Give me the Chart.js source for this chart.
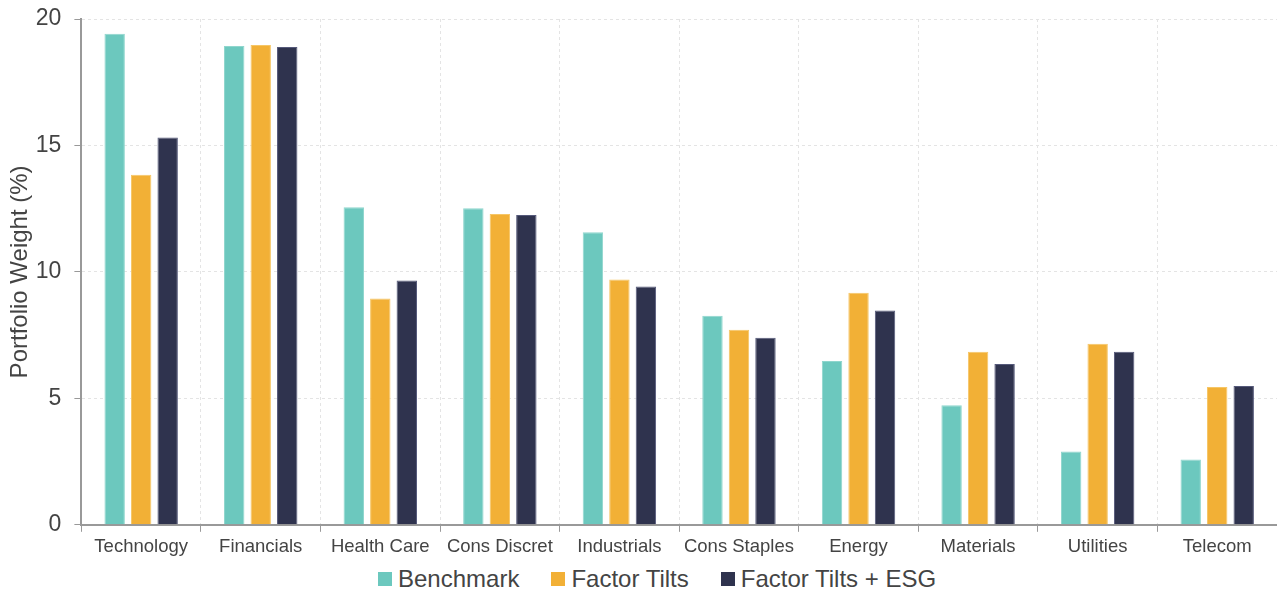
<!DOCTYPE html>
<html>
<head>
<meta charset="utf-8">
<script src="https://cdn.jsdelivr.net/npm/chart.js@4"></script>
<style>
  html, body { margin: 0; padding: 0; background: #fff; }
  #wrap { width: 1277px; height: 593px; position: relative; font-family: 'Liberation Sans', Arial, sans-serif; }
  #plot { position: absolute; left: 0; top: 0; width: 1277px; height: 564px; }
  #legend { position: absolute; left: 378px; top: 566px; height: 26px; line-height: 26px;
            display: flex; gap: 32px; font-size: 24px; color: #444; white-space: nowrap; }
  #legend .item { display: flex; align-items: center; }
  #legend .box { width: 14px; height: 14px; margin-right: 6px; }
</style>
</head>
<body>
<div id="wrap">
  <div id="plot"><canvas id="chart"></canvas></div>
  <div id="legend"></div>
</div>
<script>
// Sector weights (%) per portfolio
const sectors = ['Technology', 'Financials', 'Health Care', 'Cons Discret', 'Industrials',
                 'Cons Staples', 'Energy', 'Materials', 'Utilities', 'Telecom'];
const benchmark   = [19.42, 18.93, 12.56, 12.52, 11.57, 8.27, 6.48, 4.73, 2.90, 2.58];
const factorTilts = [13.84, 18.97, 8.95, 12.29, 9.70, 7.71, 9.18, 6.84, 7.16, 5.45];
const tiltsEsg    = [15.31, 18.89, 9.66, 12.25, 9.42, 7.40, 8.47, 6.36, 6.84, 5.49];
const yTicks = [0, 5, 10, 15, 20];

const FONT = "'Liberation Sans', Arial, sans-serif";
const TEXT = '#444';

const chart = new Chart(document.getElementById('chart'), {
  type: 'bar',
  data: {
    labels: sectors,
    datasets: [
      { label: 'Benchmark', data: benchmark, backgroundColor: '#6cc8be', borderColor: '#8fd6cd', borderWidth: 1 },
      { label: 'Factor Tilts', data: factorTilts, backgroundColor: '#f2b036', borderColor: '#f6c666', borderWidth: 1 },
      { label: 'Factor Tilts + ESG', data: tiltsEsg, backgroundColor: '#2f334e', borderColor: '#55597a', borderWidth: 1 }
    ]
  },
  options: {
    responsive: true,
    maintainAspectRatio: false,
    animation: false,
    layout: { padding: { left: 6, right: 0, top: 1, bottom: 2 } },
    datasets: { bar: { categoryPercentage: 0.665, barPercentage: 0.77 } },
    plugins: {
      tooltip: { enabled: false },
      legend: { display: false }
    },
    scales: {
      x: {
        offset: true,
        grid: {
          offset: true,
          color: '#e4e4e4',
          tickColor: '#999',
          tickLength: 7
        },
        border: { color: '#999', width: 2, dash: [3, 3] },
        ticks: { font: { family: FONT, size: 18.5 }, color: TEXT, padding: 4, maxRotation: 0, autoSkip: false }
      },
      y: {
        min: 0,
        max: 20,
        afterBuildTicks: (axis) => { axis.ticks = yTicks.map(v => ({ value: v })); },
        // keep only room for half a tick label above the top gridline
        afterFit: (axis) => { axis.paddingTop = 19; },
        grid: { color: '#e4e4e4', tickColor: '#999', tickLength: 7 },
        border: { color: '#999', width: 2, dash: [3, 3] },
        ticks: { font: { family: FONT, size: 23 }, color: TEXT, padding: 13 },
        title: {
          display: true,
          text: 'Portfolio Weight (%)',
          font: { family: FONT, size: 24 },
          color: TEXT,
          padding: { top: 0, bottom: -12 }
        }
      }
    }
  }
});

// Legend built from the dataset colours and labels
const legendEl = document.getElementById('legend');
chart.data.datasets.forEach(ds => {
  const item = document.createElement('div');
  item.className = 'item';
  const box = document.createElement('span');
  box.className = 'box';
  box.style.background = ds.backgroundColor;
  const label = document.createElement('span');
  label.textContent = ds.label;
  item.appendChild(box);
  item.appendChild(label);
  legendEl.appendChild(item);
});
</script>
</body>
</html>
